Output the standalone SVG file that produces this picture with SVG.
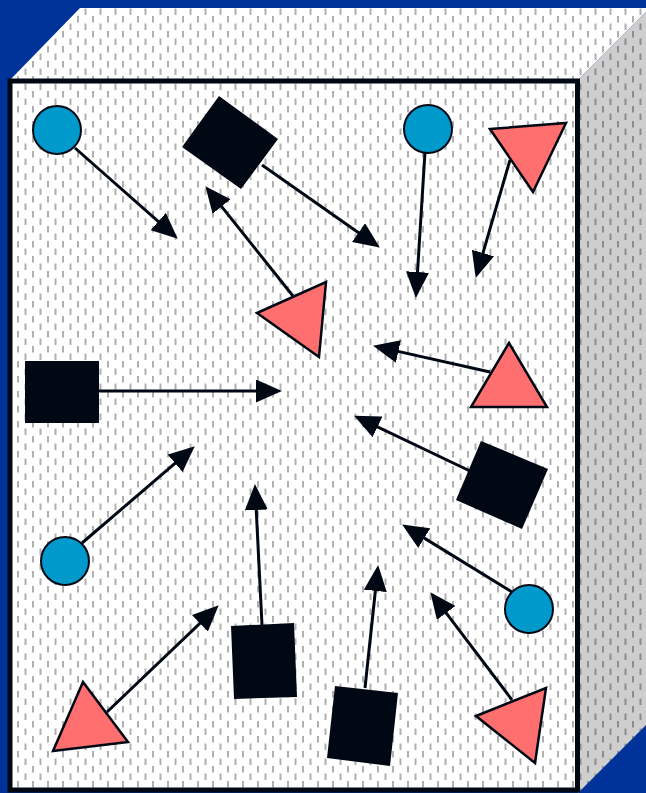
<svg xmlns="http://www.w3.org/2000/svg" width="646" height="793" viewBox="0 0 646 793">
  <defs>
    <pattern id="dotsW" patternUnits="userSpaceOnUse" width="15" height="15">
      <rect width="15" height="15" fill="#ffffff"/>
      <rect x="2" y="1" width="2" height="6.5" fill="#b0b0b0"/>
      <rect x="9.5" y="8.5" width="2" height="6.5" fill="#b0b0b0"/>
    </pattern>
    <pattern id="dotsG" patternUnits="userSpaceOnUse" width="15" height="15">
      <rect width="15" height="15" fill="#cecece"/>
      <rect x="2" y="1" width="2" height="6.5" fill="#8c8c8c"/>
      <rect x="9.5" y="8.5" width="2" height="6.5" fill="#8c8c8c"/>
    </pattern>
    <marker id="ah" markerUnits="userSpaceOnUse" markerWidth="26" markerHeight="23" refX="21" refY="11.5" orient="auto" viewBox="0 0 26 23">
      <path d="M0,0 L26,11.5 L0,23 Z" fill="#000814"/>
    </marker>
    <style>
      .cn line { stroke: #000814; stroke-width: 3; marker-end: url(#ah); }
      .circ { fill: #0099cc; stroke: #000814; stroke-width: 2; }
      .tri { fill: #ff6f6f; stroke: #000814; stroke-width: 2.5; stroke-linejoin: miter; }
      .sq { fill: #000814; }
    </style>
  </defs>

  <rect width="646" height="793" fill="#003399"/>
  <g id="box">
    <polygon points="10,80 80,8 650,8 578,80" fill="url(#dotsW)"/>
    <polygon points="578,80 648,10 648,723 578,793" fill="url(#dotsG)"/>
    <rect x="10" y="81" width="567.5" height="709" fill="url(#dotsW)" stroke="#000814" stroke-width="5"/>
  </g>

  <g id="connectors" class="cn">
    <line x1="75" y1="148" x2="174" y2="235.4"/>
    <line x1="262" y1="165" x2="375.7" y2="244.7"/>
    <line x1="293" y1="296" x2="208.5" y2="190.1"/>
    <line x1="425" y1="152" x2="416.2" y2="293"/>
    <line x1="510" y1="160" x2="477.1" y2="273.2"/>
    <line x1="490" y1="372" x2="377.9" y2="346.9"/>
    <line x1="99" y1="391" x2="277" y2="391"/>
    <line x1="82" y1="543" x2="191" y2="449.6"/>
    <line x1="470" y1="471" x2="358.6" y2="417.8"/>
    <line x1="262" y1="625" x2="255.2" y2="489"/>
    <line x1="365" y1="688" x2="377.6" y2="570"/>
    <line x1="512" y1="592" x2="406.4" y2="527.1"/>
    <line x1="512" y1="700" x2="433.4" y2="596.2"/>
    <line x1="107" y1="712" x2="215.1" y2="608.8"/>
  </g>

  <g id="circle1"><circle class="circ" cx="57" cy="130" r="24"/></g>
  <g id="circle2"><circle class="circ" cx="428" cy="129" r="24"/></g>
  <g id="circle3"><circle class="circ" cx="65" cy="561" r="24"/></g>
  <g id="circle4"><circle class="circ" cx="529" cy="609" r="24"/></g>

  <g id="square1"><polygon class="sq" points="219,96 278,139 241,189 182,147"/></g>
  <g id="square2"><rect class="sq" x="25" y="361" width="74" height="62"/></g>
  <g id="square3"><polygon class="sq" points="481,441 548,469 522,529 456,500"/></g>
  <g id="square4"><polygon class="sq" points="231,626 294,623 297,697 234,699"/></g>
  <g id="square5"><polygon class="sq" points="335,686 398,693 390,766 327,758"/></g>

  <g id="triangle1"><polygon class="tri" points="490,129 566,123 533,192"/></g>
  <g id="triangle2"><polygon class="tri" points="257,313 326,282 319,357"/></g>
  <g id="triangle3"><polygon class="tri" points="509,343 471,407 547,407"/></g>
  <g id="triangle4"><polygon class="tri" points="83,682 53,751 128,742"/></g>
  <g id="triangle5"><polygon class="tri" points="476,716 546,688 535,763"/></g>
</svg>
